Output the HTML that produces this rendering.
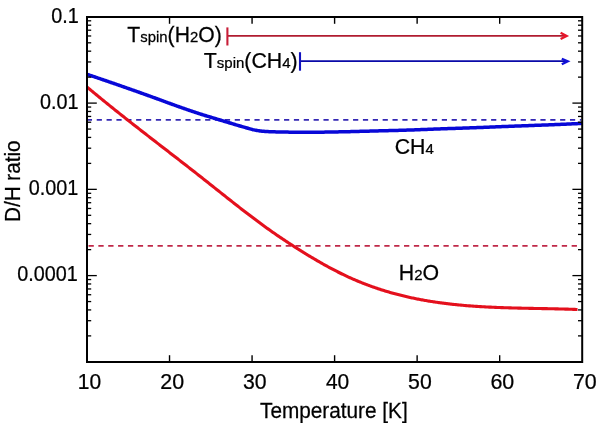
<!DOCTYPE html>
<html><head><meta charset="utf-8"><style>
html,body{margin:0;padding:0;background:#fff;}
svg{display:block;will-change:transform;}
text{font-family:"Liberation Sans",sans-serif;font-size:21.3px;fill:#000;stroke:#000;stroke-width:0.25px;}
</style></head><body>
<svg width="600" height="423" viewBox="0 0 600 423">
<rect width="600" height="423" fill="#fff"/>
<line x1="86.84" y1="119.95" x2="581" y2="119.95" stroke="#3428b4" stroke-width="1.7" stroke-dasharray="5.2 4.66"/>
<line x1="88.5" y1="245.9" x2="581" y2="245.9" stroke="#c02848" stroke-width="1.7" stroke-dasharray="5.3 4.56"/>
<path d="M87.00,74.30 L88.00,74.64 L89.00,74.97 L90.00,75.31 L91.00,75.65 L92.00,75.99 L93.00,76.33 L94.00,76.67 L95.00,77.01 L96.00,77.34 L97.00,77.68 L98.00,78.03 L99.00,78.37 L100.00,78.71 L101.00,79.05 L102.00,79.39 L103.00,79.73 L104.00,80.08 L105.00,80.42 L106.00,80.76 L107.00,81.10 L108.00,81.45 L109.00,81.79 L110.00,82.14 L111.00,82.48 L112.00,82.83 L113.00,83.17 L114.00,83.52 L115.00,83.86 L116.00,84.21 L117.00,84.56 L118.00,84.90 L119.00,85.25 L120.00,85.60 L121.00,85.95 L122.00,86.30 L123.00,86.65 L124.00,86.99 L125.00,87.34 L126.00,87.69 L127.00,88.04 L128.00,88.39 L129.00,88.74 L130.00,89.10 L131.00,89.45 L132.00,89.80 L133.00,90.15 L134.00,90.50 L135.00,90.86 L136.00,91.21 L137.00,91.56 L138.00,91.92 L139.00,92.27 L140.00,92.63 L141.00,92.98 L142.00,93.34 L143.00,93.70 L144.00,94.05 L145.00,94.41 L146.00,94.77 L147.00,95.12 L148.00,95.48 L149.00,95.84 L150.00,96.20 L151.00,96.56 L152.00,96.92 L153.00,97.28 L154.00,97.65 L155.00,98.01 L156.00,98.38 L157.00,98.74 L158.00,99.11 L159.00,99.48 L160.00,99.84 L161.00,100.21 L162.00,100.58 L163.00,100.95 L164.00,101.32 L165.00,101.68 L166.00,102.05 L167.00,102.42 L168.00,102.78 L169.00,103.15 L170.00,103.51 L171.00,103.87 L172.00,104.23 L173.00,104.59 L174.00,104.95 L175.00,105.31 L176.00,105.67 L177.00,106.03 L178.00,106.39 L179.00,106.74 L180.00,107.10 L181.00,107.46 L182.00,107.81 L183.00,108.17 L184.00,108.52 L185.00,108.87 L186.00,109.22 L187.00,109.57 L188.00,109.91 L189.00,110.26 L190.00,110.60 L191.00,110.94 L192.00,111.28 L193.00,111.61 L194.00,111.94 L195.00,112.28 L196.00,112.60 L197.00,112.93 L198.00,113.26 L199.00,113.58 L200.00,113.90 L201.00,114.22 L202.00,114.53 L203.00,114.85 L204.00,115.16 L205.00,115.47 L206.00,115.78 L207.00,116.08 L208.00,116.39 L209.00,116.69 L210.00,117.00 L211.00,117.30 L212.00,117.61 L213.00,117.91 L214.00,118.21 L215.00,118.51 L216.00,118.80 L217.00,119.10 L218.00,119.40 L219.00,119.70 L220.00,120.00 L221.00,120.30 L222.00,120.60 L223.00,120.90 L224.00,121.20 L225.00,121.50 L226.00,121.80 L227.00,122.10 L228.00,122.40 L229.00,122.70 L230.00,123.00 L231.00,123.30 L232.00,123.60 L233.00,123.90 L234.00,124.21 L235.00,124.51 L236.00,124.81 L237.00,125.11 L238.00,125.41 L239.00,125.71 L240.00,126.00 L241.00,126.29 L242.00,126.58 L243.00,126.87 L244.00,127.15 L245.00,127.44 L246.00,127.72 L247.00,128.00 L248.00,128.28 L249.00,128.58 L250.00,128.87 L251.00,129.16 L252.00,129.43 L253.00,129.68 L254.00,129.90 L255.00,130.10 L256.00,130.29 L257.00,130.46 L258.00,130.62 L259.00,130.77 L260.00,130.90 L261.00,131.02 L262.00,131.14 L263.00,131.25 L264.00,131.35 L265.00,131.43 L266.00,131.50 L267.00,131.55 L268.00,131.60 L269.00,131.65 L270.00,131.69 L271.00,131.73 L272.00,131.76 L273.00,131.79 L274.00,131.82 L275.00,131.85 L276.00,131.88 L277.00,131.90 L278.00,131.93 L279.00,131.95 L280.00,131.97 L281.00,132.00 L282.00,132.02 L283.00,132.04 L284.00,132.05 L285.00,132.07 L286.00,132.09 L287.00,132.11 L288.00,132.12 L289.00,132.14 L290.00,132.15 L291.00,132.16 L292.00,132.18 L293.00,132.19 L294.00,132.20 L295.00,132.22 L296.00,132.23 L297.00,132.24 L298.00,132.26 L299.00,132.27 L300.00,132.28 L301.00,132.28 L302.00,132.29 L303.00,132.30 L304.00,132.30 L305.00,132.30 L306.00,132.30 L307.00,132.30 L308.00,132.29 L309.00,132.29 L310.00,132.29 L311.00,132.28 L312.00,132.27 L313.00,132.26 L314.00,132.25 L315.00,132.24 L316.00,132.23 L317.00,132.22 L318.00,132.21 L319.00,132.20 L320.00,132.18 L321.00,132.17 L322.00,132.16 L323.00,132.14 L324.00,132.13 L325.00,132.11 L326.00,132.09 L327.00,132.08 L328.00,132.06 L329.00,132.04 L330.00,132.03 L331.00,132.01 L332.00,131.99 L333.00,131.98 L334.00,131.96 L335.00,131.94 L336.00,131.92 L337.00,131.91 L338.00,131.89 L339.00,131.87 L340.00,131.86 L341.00,131.84 L342.00,131.82 L343.00,131.80 L344.00,131.78 L345.00,131.75 L346.00,131.73 L347.00,131.71 L348.00,131.68 L349.00,131.66 L350.00,131.63 L351.00,131.61 L352.00,131.58 L353.00,131.56 L354.00,131.53 L355.00,131.50 L356.00,131.48 L357.00,131.45 L358.00,131.42 L359.00,131.40 L360.00,131.37 L361.00,131.34 L362.00,131.31 L363.00,131.29 L364.00,131.26 L365.00,131.23 L366.00,131.20 L367.00,131.18 L368.00,131.15 L369.00,131.13 L370.00,131.10 L371.00,131.07 L372.00,131.05 L373.00,131.02 L374.00,131.00 L375.00,130.97 L376.00,130.95 L377.00,130.92 L378.00,130.90 L379.00,130.87 L380.00,130.85 L381.00,130.82 L382.00,130.80 L383.00,130.77 L384.00,130.75 L385.00,130.72 L386.00,130.70 L387.00,130.67 L388.00,130.65 L389.00,130.62 L390.00,130.59 L391.00,130.57 L392.00,130.54 L393.00,130.51 L394.00,130.49 L395.00,130.46 L396.00,130.43 L397.00,130.41 L398.00,130.38 L399.00,130.35 L400.00,130.32 L401.00,130.29 L402.00,130.27 L403.00,130.24 L404.00,130.21 L405.00,130.18 L406.00,130.15 L407.00,130.12 L408.00,130.08 L409.00,130.05 L410.00,130.02 L411.00,129.99 L412.00,129.95 L413.00,129.92 L414.00,129.88 L415.00,129.85 L416.00,129.81 L417.00,129.77 L418.00,129.74 L419.00,129.70 L420.00,129.66 L421.00,129.62 L422.00,129.59 L423.00,129.55 L424.00,129.51 L425.00,129.47 L426.00,129.43 L427.00,129.39 L428.00,129.35 L429.00,129.32 L430.00,129.28 L431.00,129.24 L432.00,129.20 L433.00,129.16 L434.00,129.12 L435.00,129.08 L436.00,129.05 L437.00,129.01 L438.00,128.97 L439.00,128.94 L440.00,128.90 L441.00,128.86 L442.00,128.83 L443.00,128.79 L444.00,128.76 L445.00,128.72 L446.00,128.69 L447.00,128.65 L448.00,128.62 L449.00,128.59 L450.00,128.55 L451.00,128.52 L452.00,128.48 L453.00,128.45 L454.00,128.42 L455.00,128.38 L456.00,128.35 L457.00,128.32 L458.00,128.28 L459.00,128.25 L460.00,128.21 L461.00,128.18 L462.00,128.15 L463.00,128.11 L464.00,128.08 L465.00,128.04 L466.00,128.01 L467.00,127.98 L468.00,127.94 L469.00,127.91 L470.00,127.87 L471.00,127.84 L472.00,127.80 L473.00,127.76 L474.00,127.73 L475.00,127.69 L476.00,127.66 L477.00,127.62 L478.00,127.58 L479.00,127.54 L480.00,127.51 L481.00,127.47 L482.00,127.43 L483.00,127.39 L484.00,127.35 L485.00,127.31 L486.00,127.27 L487.00,127.23 L488.00,127.19 L489.00,127.15 L490.00,127.11 L491.00,127.07 L492.00,127.03 L493.00,126.99 L494.00,126.95 L495.00,126.90 L496.00,126.86 L497.00,126.82 L498.00,126.78 L499.00,126.74 L500.00,126.70 L501.00,126.66 L502.00,126.62 L503.00,126.58 L504.00,126.54 L505.00,126.50 L506.00,126.46 L507.00,126.42 L508.00,126.38 L509.00,126.34 L510.00,126.30 L511.00,126.26 L512.00,126.22 L513.00,126.18 L514.00,126.15 L515.00,126.11 L516.00,126.07 L517.00,126.03 L518.00,126.00 L519.00,125.96 L520.00,125.92 L521.00,125.89 L522.00,125.85 L523.00,125.81 L524.00,125.78 L525.00,125.74 L526.00,125.70 L527.00,125.67 L528.00,125.63 L529.00,125.59 L530.00,125.56 L531.00,125.52 L532.00,125.49 L533.00,125.45 L534.00,125.41 L535.00,125.37 L536.00,125.34 L537.00,125.30 L538.00,125.26 L539.00,125.23 L540.00,125.19 L541.00,125.15 L542.00,125.11 L543.00,125.07 L544.00,125.04 L545.00,125.00 L546.00,124.96 L547.00,124.92 L548.00,124.88 L549.00,124.84 L550.00,124.80 L551.00,124.76 L552.00,124.72 L553.00,124.68 L554.00,124.64 L555.00,124.60 L556.00,124.55 L557.00,124.51 L558.00,124.47 L559.00,124.43 L560.00,124.39 L561.00,124.34 L562.00,124.30 L563.00,124.26 L564.00,124.21 L565.00,124.17 L566.00,124.13 L567.00,124.08 L568.00,124.04 L569.00,124.00 L570.00,123.95 L571.00,123.91 L572.00,123.86 L573.00,123.82 L574.00,123.77 L575.00,123.73 L576.00,123.68 L577.00,123.64 L578.00,123.59 L579.00,123.55 L580.00,123.50 L581.00,123.46 L582.00,123.41 L582.20,123.40" fill="none" stroke="#0808d8" stroke-width="3.5" stroke-linejoin="round"/>
<path d="M87.00,87.00 L88.00,87.84 L89.00,88.67 L90.00,89.51 L91.00,90.34 L92.00,91.17 L93.00,92.00 L94.00,92.83 L95.00,93.66 L96.00,94.49 L97.00,95.31 L98.00,96.13 L99.00,96.96 L100.00,97.78 L101.00,98.60 L102.00,99.41 L103.00,100.23 L104.00,101.04 L105.00,101.86 L106.00,102.67 L107.00,103.48 L108.00,104.29 L109.00,105.10 L110.00,105.90 L111.00,106.71 L112.00,107.51 L113.00,108.32 L114.00,109.12 L115.00,109.92 L116.00,110.72 L117.00,111.52 L118.00,112.32 L119.00,113.11 L120.00,113.91 L121.00,114.70 L122.00,115.50 L123.00,116.29 L124.00,117.08 L125.00,117.87 L126.00,118.66 L127.00,119.45 L128.00,120.24 L129.00,121.03 L130.00,121.82 L131.00,122.60 L132.00,123.39 L133.00,124.17 L134.00,124.96 L135.00,125.74 L136.00,126.52 L137.00,127.31 L138.00,128.09 L139.00,128.87 L140.00,129.65 L141.00,130.43 L142.00,131.21 L143.00,131.99 L144.00,132.76 L145.00,133.54 L146.00,134.32 L147.00,135.10 L148.00,135.87 L149.00,136.65 L150.00,137.42 L151.00,138.20 L152.00,138.98 L153.00,139.75 L154.00,140.52 L155.00,141.30 L156.00,142.07 L157.00,142.85 L158.00,143.62 L159.00,144.39 L160.00,145.17 L161.00,145.94 L162.00,146.72 L163.00,147.49 L164.00,148.26 L165.00,149.03 L166.00,149.81 L167.00,150.58 L168.00,151.35 L169.00,152.13 L170.00,152.90 L171.00,153.67 L172.00,154.45 L173.00,155.22 L174.00,156.00 L175.00,156.77 L176.00,157.55 L177.00,158.32 L178.00,159.09 L179.00,159.87 L180.00,160.65 L181.00,161.42 L182.00,162.20 L183.00,162.97 L184.00,163.75 L185.00,164.53 L186.00,165.31 L187.00,166.08 L188.00,166.86 L189.00,167.64 L190.00,168.42 L191.00,169.20 L192.00,169.98 L193.00,170.77 L194.00,171.55 L195.00,172.33 L196.00,173.11 L197.00,173.90 L198.00,174.68 L199.00,175.47 L200.00,176.25 L201.00,177.04 L202.00,177.83 L203.00,178.62 L204.00,179.41 L205.00,180.20 L206.00,180.99 L207.00,181.78 L208.00,182.57 L209.00,183.37 L210.00,184.16 L211.00,184.95 L212.00,185.75 L213.00,186.54 L214.00,187.34 L215.00,188.13 L216.00,188.93 L217.00,189.72 L218.00,190.52 L219.00,191.31 L220.00,192.11 L221.00,192.90 L222.00,193.69 L223.00,194.49 L224.00,195.28 L225.00,196.08 L226.00,196.87 L227.00,197.66 L228.00,198.45 L229.00,199.24 L230.00,200.03 L231.00,200.82 L232.00,201.61 L233.00,202.40 L234.00,203.18 L235.00,203.97 L236.00,204.75 L237.00,205.54 L238.00,206.32 L239.00,207.10 L240.00,207.88 L241.00,208.65 L242.00,209.43 L243.00,210.20 L244.00,210.98 L245.00,211.75 L246.00,212.52 L247.00,213.28 L248.00,214.05 L249.00,214.81 L250.00,215.58 L251.00,216.33 L252.00,217.09 L253.00,217.85 L254.00,218.60 L255.00,219.35 L256.00,220.10 L257.00,220.84 L258.00,221.59 L259.00,222.33 L260.00,223.07 L261.00,223.80 L262.00,224.53 L263.00,225.26 L264.00,225.99 L265.00,226.71 L266.00,227.43 L267.00,228.15 L268.00,228.87 L269.00,229.58 L270.00,230.29 L271.00,230.99 L272.00,231.70 L273.00,232.40 L274.00,233.09 L275.00,233.79 L276.00,234.48 L277.00,235.17 L278.00,235.85 L279.00,236.54 L280.00,237.22 L281.00,237.90 L282.00,238.57 L283.00,239.24 L284.00,239.91 L285.00,240.58 L286.00,241.24 L287.00,241.90 L288.00,242.56 L289.00,243.22 L290.00,243.87 L291.00,244.52 L292.00,245.17 L293.00,245.81 L294.00,246.46 L295.00,247.10 L296.00,247.74 L297.00,248.37 L298.00,249.00 L299.00,249.63 L300.00,250.26 L301.00,250.89 L302.00,251.51 L303.00,252.13 L304.00,252.75 L305.00,253.36 L306.00,253.98 L307.00,254.59 L308.00,255.20 L309.00,255.80 L310.00,256.40 L311.00,257.01 L312.00,257.60 L313.00,258.20 L314.00,258.79 L315.00,259.38 L316.00,259.96 L317.00,260.55 L318.00,261.13 L319.00,261.70 L320.00,262.28 L321.00,262.85 L322.00,263.42 L323.00,263.98 L324.00,264.54 L325.00,265.10 L326.00,265.65 L327.00,266.20 L328.00,266.75 L329.00,267.29 L330.00,267.83 L331.00,268.36 L332.00,268.89 L333.00,269.42 L334.00,269.95 L335.00,270.47 L336.00,270.98 L337.00,271.49 L338.00,272.00 L339.00,272.50 L340.00,273.00 L341.00,273.50 L342.00,273.99 L343.00,274.47 L344.00,274.95 L345.00,275.43 L346.00,275.90 L347.00,276.37 L348.00,276.83 L349.00,277.29 L350.00,277.75 L351.00,278.19 L352.00,278.64 L353.00,279.08 L354.00,279.51 L355.00,279.95 L356.00,280.37 L357.00,280.79 L358.00,281.21 L359.00,281.63 L360.00,282.03 L361.00,282.44 L362.00,282.84 L363.00,283.23 L364.00,283.63 L365.00,284.01 L366.00,284.40 L367.00,284.78 L368.00,285.15 L369.00,285.52 L370.00,285.89 L371.00,286.25 L372.00,286.61 L373.00,286.96 L374.00,287.31 L375.00,287.66 L376.00,288.00 L377.00,288.34 L378.00,288.68 L379.00,289.01 L380.00,289.33 L381.00,289.66 L382.00,289.98 L383.00,290.29 L384.00,290.60 L385.00,290.91 L386.00,291.21 L387.00,291.51 L388.00,291.81 L389.00,292.10 L390.00,292.39 L391.00,292.68 L392.00,292.96 L393.00,293.24 L394.00,293.51 L395.00,293.79 L396.00,294.05 L397.00,294.32 L398.00,294.58 L399.00,294.84 L400.00,295.09 L401.00,295.34 L402.00,295.59 L403.00,295.83 L404.00,296.07 L405.00,296.31 L406.00,296.55 L407.00,296.78 L408.00,297.01 L409.00,297.23 L410.00,297.45 L411.00,297.67 L412.00,297.89 L413.00,298.10 L414.00,298.31 L415.00,298.51 L416.00,298.72 L417.00,298.92 L418.00,299.11 L419.00,299.31 L420.00,299.50 L421.00,299.69 L422.00,299.87 L423.00,300.06 L424.00,300.24 L425.00,300.41 L426.00,300.59 L427.00,300.76 L428.00,300.93 L429.00,301.10 L430.00,301.26 L431.00,301.42 L432.00,301.58 L433.00,301.74 L434.00,301.89 L435.00,302.04 L436.00,302.19 L437.00,302.33 L438.00,302.48 L439.00,302.62 L440.00,302.76 L441.00,302.89 L442.00,303.03 L443.00,303.16 L444.00,303.29 L445.00,303.41 L446.00,303.54 L447.00,303.66 L448.00,303.78 L449.00,303.90 L450.00,304.01 L451.00,304.13 L452.00,304.24 L453.00,304.35 L454.00,304.45 L455.00,304.56 L456.00,304.66 L457.00,304.76 L458.00,304.86 L459.00,304.96 L460.00,305.05 L461.00,305.15 L462.00,305.24 L463.00,305.33 L464.00,305.42 L465.00,305.50 L466.00,305.58 L467.00,305.67 L468.00,305.75 L469.00,305.83 L470.00,305.90 L471.00,305.98 L472.00,306.05 L473.00,306.12 L474.00,306.20 L475.00,306.26 L476.00,306.33 L477.00,306.40 L478.00,306.46 L479.00,306.52 L480.00,306.59 L481.00,306.65 L482.00,306.70 L483.00,306.76 L484.00,306.82 L485.00,306.87 L486.00,306.93 L487.00,306.98 L488.00,307.03 L489.00,307.08 L490.00,307.13 L491.00,307.17 L492.00,307.22 L493.00,307.26 L494.00,307.31 L495.00,307.35 L496.00,307.39 L497.00,307.43 L498.00,307.47 L499.00,307.51 L500.00,307.55 L501.00,307.59 L502.00,307.62 L503.00,307.66 L504.00,307.69 L505.00,307.72 L506.00,307.75 L507.00,307.79 L508.00,307.82 L509.00,307.85 L510.00,307.88 L511.00,307.91 L512.00,307.93 L513.00,307.96 L514.00,307.99 L515.00,308.01 L516.00,308.04 L517.00,308.06 L518.00,308.09 L519.00,308.11 L520.00,308.13 L521.00,308.16 L522.00,308.18 L523.00,308.20 L524.00,308.22 L525.00,308.25 L526.00,308.27 L527.00,308.29 L528.00,308.31 L529.00,308.33 L530.00,308.35 L531.00,308.37 L532.00,308.39 L533.00,308.41 L534.00,308.43 L535.00,308.45 L536.00,308.46 L537.00,308.48 L538.00,308.50 L539.00,308.52 L540.00,308.54 L541.00,308.56 L542.00,308.58 L543.00,308.60 L544.00,308.62 L545.00,308.64 L546.00,308.66 L547.00,308.67 L548.00,308.69 L549.00,308.71 L550.00,308.74 L551.00,308.76 L552.00,308.78 L553.00,308.80 L554.00,308.82 L555.00,308.84 L556.00,308.86 L557.00,308.89 L558.00,308.91 L559.00,308.93 L560.00,308.96 L561.00,308.98 L562.00,309.01 L563.00,309.03 L564.00,309.06 L565.00,309.09 L566.00,309.11 L567.00,309.14 L568.00,309.17 L569.00,309.20 L570.00,309.23 L571.00,309.26 L572.00,309.30 L573.00,309.33 L574.00,309.36 L575.00,309.40 L576.00,309.43 L577.00,309.47 L577.50,309.49" fill="none" stroke="#e4101d" stroke-width="3.1" stroke-linejoin="round"/>
<line x1="227.4" y1="35.95" x2="566" y2="35.95" stroke="#b01c30" stroke-width="1.8"/>
<line x1="227.4" y1="27.4" x2="227.4" y2="45.5" stroke="#c81e38" stroke-width="2.1"/>
<polyline points="560.6,32.8 566.6,35.9 560.6,39.0" fill="none" stroke="#e8162a" stroke-width="2.3" stroke-linejoin="miter"/>
<line x1="300" y1="61.2" x2="567" y2="61.2" stroke="#0a0aa8" stroke-width="1.8"/>
<line x1="300" y1="52.2" x2="300" y2="70.7" stroke="#1212c0" stroke-width="2.1"/>
<polyline points="561.8,58.7 567.8,61.4 561.8,64.3" fill="none" stroke="#1010d8" stroke-width="2.3" stroke-linejoin="miter"/>
<rect x="87.0" y="17.0" width="495.20" height="345.0" fill="none" stroke="#000" stroke-width="2"/>
<line x1="169.53" y1="362.0" x2="169.53" y2="355.2" stroke="#000" stroke-width="1.4"/>
<line x1="169.53" y1="17.0" x2="169.53" y2="23.8" stroke="#000" stroke-width="1.4"/>
<line x1="252.07" y1="362.0" x2="252.07" y2="355.2" stroke="#000" stroke-width="1.4"/>
<line x1="252.07" y1="17.0" x2="252.07" y2="23.8" stroke="#000" stroke-width="1.4"/>
<line x1="334.60" y1="362.0" x2="334.60" y2="355.2" stroke="#000" stroke-width="1.4"/>
<line x1="334.60" y1="17.0" x2="334.60" y2="23.8" stroke="#000" stroke-width="1.4"/>
<line x1="417.13" y1="362.0" x2="417.13" y2="355.2" stroke="#000" stroke-width="1.4"/>
<line x1="417.13" y1="17.0" x2="417.13" y2="23.8" stroke="#000" stroke-width="1.4"/>
<line x1="499.67" y1="362.0" x2="499.67" y2="355.2" stroke="#000" stroke-width="1.4"/>
<line x1="499.67" y1="17.0" x2="499.67" y2="23.8" stroke="#000" stroke-width="1.4"/>
<line x1="87.0" y1="103.10" x2="96.8" y2="103.10" stroke="#000" stroke-width="1.3"/>
<line x1="582.2" y1="103.10" x2="572.4000000000001" y2="103.10" stroke="#000" stroke-width="1.3"/>
<line x1="87.0" y1="77.14" x2="91.2" y2="77.14" stroke="#000" stroke-width="1.3"/>
<line x1="582.2" y1="77.14" x2="578.0" y2="77.14" stroke="#000" stroke-width="1.3"/>
<line x1="87.0" y1="61.95" x2="91.2" y2="61.95" stroke="#000" stroke-width="1.3"/>
<line x1="582.2" y1="61.95" x2="578.0" y2="61.95" stroke="#000" stroke-width="1.3"/>
<line x1="87.0" y1="51.17" x2="91.2" y2="51.17" stroke="#000" stroke-width="1.3"/>
<line x1="582.2" y1="51.17" x2="578.0" y2="51.17" stroke="#000" stroke-width="1.3"/>
<line x1="87.0" y1="42.81" x2="91.2" y2="42.81" stroke="#000" stroke-width="1.3"/>
<line x1="582.2" y1="42.81" x2="578.0" y2="42.81" stroke="#000" stroke-width="1.3"/>
<line x1="87.0" y1="35.98" x2="91.2" y2="35.98" stroke="#000" stroke-width="1.3"/>
<line x1="582.2" y1="35.98" x2="578.0" y2="35.98" stroke="#000" stroke-width="1.3"/>
<line x1="87.0" y1="30.21" x2="91.2" y2="30.21" stroke="#000" stroke-width="1.3"/>
<line x1="582.2" y1="30.21" x2="578.0" y2="30.21" stroke="#000" stroke-width="1.3"/>
<line x1="87.0" y1="25.21" x2="91.2" y2="25.21" stroke="#000" stroke-width="1.3"/>
<line x1="582.2" y1="25.21" x2="578.0" y2="25.21" stroke="#000" stroke-width="1.3"/>
<line x1="87.0" y1="20.80" x2="91.2" y2="20.80" stroke="#000" stroke-width="1.3"/>
<line x1="582.2" y1="20.80" x2="578.0" y2="20.80" stroke="#000" stroke-width="1.3"/>
<line x1="87.0" y1="189.35" x2="96.8" y2="189.35" stroke="#000" stroke-width="1.3"/>
<line x1="582.2" y1="189.35" x2="572.4000000000001" y2="189.35" stroke="#000" stroke-width="1.3"/>
<line x1="87.0" y1="163.39" x2="91.2" y2="163.39" stroke="#000" stroke-width="1.3"/>
<line x1="582.2" y1="163.39" x2="578.0" y2="163.39" stroke="#000" stroke-width="1.3"/>
<line x1="87.0" y1="148.20" x2="91.2" y2="148.20" stroke="#000" stroke-width="1.3"/>
<line x1="582.2" y1="148.20" x2="578.0" y2="148.20" stroke="#000" stroke-width="1.3"/>
<line x1="87.0" y1="137.42" x2="91.2" y2="137.42" stroke="#000" stroke-width="1.3"/>
<line x1="582.2" y1="137.42" x2="578.0" y2="137.42" stroke="#000" stroke-width="1.3"/>
<line x1="87.0" y1="129.06" x2="91.2" y2="129.06" stroke="#000" stroke-width="1.3"/>
<line x1="582.2" y1="129.06" x2="578.0" y2="129.06" stroke="#000" stroke-width="1.3"/>
<line x1="87.0" y1="122.23" x2="91.2" y2="122.23" stroke="#000" stroke-width="1.3"/>
<line x1="582.2" y1="122.23" x2="578.0" y2="122.23" stroke="#000" stroke-width="1.3"/>
<line x1="87.0" y1="116.46" x2="91.2" y2="116.46" stroke="#000" stroke-width="1.3"/>
<line x1="582.2" y1="116.46" x2="578.0" y2="116.46" stroke="#000" stroke-width="1.3"/>
<line x1="87.0" y1="111.46" x2="91.2" y2="111.46" stroke="#000" stroke-width="1.3"/>
<line x1="582.2" y1="111.46" x2="578.0" y2="111.46" stroke="#000" stroke-width="1.3"/>
<line x1="87.0" y1="107.05" x2="91.2" y2="107.05" stroke="#000" stroke-width="1.3"/>
<line x1="582.2" y1="107.05" x2="578.0" y2="107.05" stroke="#000" stroke-width="1.3"/>
<line x1="87.0" y1="275.60" x2="96.8" y2="275.60" stroke="#000" stroke-width="1.3"/>
<line x1="582.2" y1="275.60" x2="572.4000000000001" y2="275.60" stroke="#000" stroke-width="1.3"/>
<line x1="87.0" y1="249.64" x2="91.2" y2="249.64" stroke="#000" stroke-width="1.3"/>
<line x1="582.2" y1="249.64" x2="578.0" y2="249.64" stroke="#000" stroke-width="1.3"/>
<line x1="87.0" y1="234.45" x2="91.2" y2="234.45" stroke="#000" stroke-width="1.3"/>
<line x1="582.2" y1="234.45" x2="578.0" y2="234.45" stroke="#000" stroke-width="1.3"/>
<line x1="87.0" y1="223.67" x2="91.2" y2="223.67" stroke="#000" stroke-width="1.3"/>
<line x1="582.2" y1="223.67" x2="578.0" y2="223.67" stroke="#000" stroke-width="1.3"/>
<line x1="87.0" y1="215.31" x2="91.2" y2="215.31" stroke="#000" stroke-width="1.3"/>
<line x1="582.2" y1="215.31" x2="578.0" y2="215.31" stroke="#000" stroke-width="1.3"/>
<line x1="87.0" y1="208.48" x2="91.2" y2="208.48" stroke="#000" stroke-width="1.3"/>
<line x1="582.2" y1="208.48" x2="578.0" y2="208.48" stroke="#000" stroke-width="1.3"/>
<line x1="87.0" y1="202.71" x2="91.2" y2="202.71" stroke="#000" stroke-width="1.3"/>
<line x1="582.2" y1="202.71" x2="578.0" y2="202.71" stroke="#000" stroke-width="1.3"/>
<line x1="87.0" y1="197.71" x2="91.2" y2="197.71" stroke="#000" stroke-width="1.3"/>
<line x1="582.2" y1="197.71" x2="578.0" y2="197.71" stroke="#000" stroke-width="1.3"/>
<line x1="87.0" y1="193.30" x2="91.2" y2="193.30" stroke="#000" stroke-width="1.3"/>
<line x1="582.2" y1="193.30" x2="578.0" y2="193.30" stroke="#000" stroke-width="1.3"/>
<line x1="87.0" y1="335.89" x2="91.2" y2="335.89" stroke="#000" stroke-width="1.3"/>
<line x1="582.2" y1="335.89" x2="578.0" y2="335.89" stroke="#000" stroke-width="1.3"/>
<line x1="87.0" y1="320.70" x2="91.2" y2="320.70" stroke="#000" stroke-width="1.3"/>
<line x1="582.2" y1="320.70" x2="578.0" y2="320.70" stroke="#000" stroke-width="1.3"/>
<line x1="87.0" y1="309.92" x2="91.2" y2="309.92" stroke="#000" stroke-width="1.3"/>
<line x1="582.2" y1="309.92" x2="578.0" y2="309.92" stroke="#000" stroke-width="1.3"/>
<line x1="87.0" y1="301.56" x2="91.2" y2="301.56" stroke="#000" stroke-width="1.3"/>
<line x1="582.2" y1="301.56" x2="578.0" y2="301.56" stroke="#000" stroke-width="1.3"/>
<line x1="87.0" y1="294.73" x2="91.2" y2="294.73" stroke="#000" stroke-width="1.3"/>
<line x1="582.2" y1="294.73" x2="578.0" y2="294.73" stroke="#000" stroke-width="1.3"/>
<line x1="87.0" y1="288.96" x2="91.2" y2="288.96" stroke="#000" stroke-width="1.3"/>
<line x1="582.2" y1="288.96" x2="578.0" y2="288.96" stroke="#000" stroke-width="1.3"/>
<line x1="87.0" y1="283.96" x2="91.2" y2="283.96" stroke="#000" stroke-width="1.3"/>
<line x1="582.2" y1="283.96" x2="578.0" y2="283.96" stroke="#000" stroke-width="1.3"/>
<line x1="87.0" y1="279.55" x2="91.2" y2="279.55" stroke="#000" stroke-width="1.3"/>
<line x1="582.2" y1="279.55" x2="578.0" y2="279.55" stroke="#000" stroke-width="1.3"/>
<text transform="translate(51.33,22.90) scale(0.9300,1)">0.1</text>
<text transform="translate(40.03,108.70) scale(0.9300,1)">0.01</text>
<text transform="translate(28.74,194.80) scale(0.9300,1)">0.001</text>
<text transform="translate(17.24,281.20) scale(0.9300,1)">0.0001</text>
<text transform="translate(77.72,388.50) scale(0.9859,1)">10</text>
<text transform="translate(160.26,388.50) scale(1.0077,1)">20</text>
<text transform="translate(243.02,388.50) scale(0.9979,1)">30</text>
<text transform="translate(325.88,388.50) scale(0.9837,1)">40</text>
<text transform="translate(408.08,388.50) scale(0.9979,1)">50</text>
<text transform="translate(490.39,388.50) scale(1.0077,1)">60</text>
<text transform="translate(572.93,388.50) scale(1.0077,1)">70</text>
<text transform="translate(260.08,417.90) scale(0.9751,1)">Temperature [K]</text>
<text transform="translate(127.37,41.50) scale(0.9929,1)">T<tspan font-size="15.0">spin</tspan>(H<tspan font-size="15.0">2</tspan>O)</text>
<text transform="translate(203.77,68.10) scale(1.0012,1)">T<tspan font-size="15.0">spin</tspan>(CH<tspan font-size="15.0">4</tspan>)</text>
<text transform="translate(394.74,153.60) scale(0.9977,1)">CH<tspan font-size="15.0">4</tspan></text>
<text transform="translate(398.80,279.60) scale(1.0003,1)">H<tspan font-size="15.0">2</tspan>O</text>
<text transform="translate(19.8,222.06) rotate(-90) scale(0.9721,1)">D/H ratio</text>
</svg>
</body></html>
